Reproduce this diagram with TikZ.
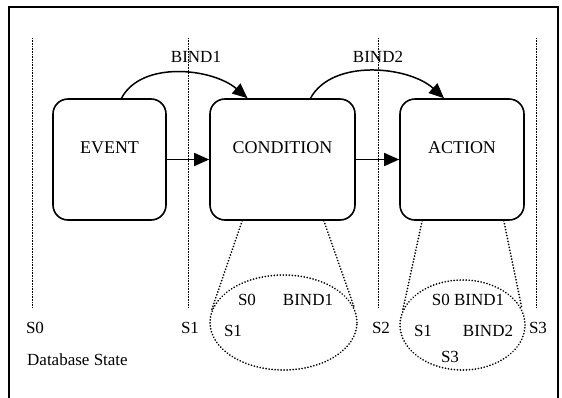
\documentclass[tikz,border=0pt]{standalone}
\usepackage{fontspec}
\setmainfont{Liberation Serif}
\usetikzlibrary{arrows.meta,shapes.geometric}

\begin{document}
\begin{tikzpicture}[x=1pt,y=-1pt,
    phase/.style={draw, line width=1.6pt, rectangle, rounded corners=15pt, minimum height=121pt, text depth=24pt, inner sep=0pt, font=\fontsize{18}{20}\selectfont},
    statering/.style={draw, ellipse, inner sep=0pt, line width=1.9pt, line cap=round, dash pattern=on 0.01pt off 3pt},
    zoomline/.style={line width=1.9pt, line cap=round, dash pattern=on 0.01pt off 3pt},
    sepline/.style={line width=0.9pt, dash pattern=on 0.8pt off 0.8pt},
    flow/.style={line width=1.5pt, -{Triangle[length=15pt,width=13pt]}},
    lbl/.style={inner sep=0pt, font=\fontsize{17}{19}\selectfont}]
    \useasboundingbox (0,0) rectangle (562,397);
    % Frame
    \draw[line width=1.5pt] (9,420) -- (9,7) -- (558,7) -- (558,420);

    % State separators
    \foreach \sx/\sname in {32/S0, 188/S1, 378/S2, 536/S3}{
        \coordinate (sep-\sname-top) at (\sx,38);
        \coordinate (sep-\sname-bot) at (\sx,308);
        \draw[sepline] (sep-\sname-top) -- (sep-\sname-bot);
    }

    % Phases
    \node[phase, minimum width=113pt] (event) at (109.5,159.5) {EVENT};
    \node[phase, minimum width=145pt] (condition) at (282.5,159.5) {CONDITION};
    \node[phase, minimum width=124pt] (action) at (462,159.5) {ACTION};

    \draw[flow] (event) -- (condition);
    \draw[flow] (condition) -- (action);

    % Bindings
    \draw[flow] ([xshift=12pt]event.north) .. controls +(20,-38) and +(-35,-30) .. ([xshift=-35pt]condition.north);
    \draw[flow] ([xshift=28pt]condition.north) .. controls +(22,-40) and +(-35,-32) .. ([xshift=-18pt]action.north);
    \node[lbl] (bind-1) at (196,57) {BIND1};
    \node[lbl] (bind-2) at (378,57) {BIND2};

    % State sets
    \node[statering, minimum width=147pt, minimum height=95pt] (condstate) at (283.5,322.5) {};
    \node[statering, minimum width=125pt, minimum height=90pt] (actstate) at (462.5,325) {};

    \draw[zoomline] ([xshift=33pt]condition.south west) -- (condstate.170);
    \draw[zoomline] ([xshift=-32pt]condition.south east) -- (condstate.12);
    \draw[zoomline] ([xshift=23pt]action.south west) -- (actstate.165);
    \draw[zoomline] ([xshift=-21pt]action.south east) -- (actstate.15);

    \node[lbl] (cs-s0) at (247,300) {S0};
    \node[lbl] (cs-bind1) at (308,300) {BIND1};
    \node[lbl] (cs-s1) at (233,331) {S1};

    \node[lbl] (as-s0) at (468,300) {S0 BIND1};
    \node[lbl] (as-s1) at (423,331) {S1};
    \node[lbl] (as-bind2) at (488,331) {BIND2};
    \node[lbl] (as-s3) at (450,357) {S3};

    % Database states
    \node[lbl] (state-0) at (35,328) {S0};
    \node[lbl] (state-1) at (190,328) {S1};
    \node[lbl] (state-2) at (381,328) {S2};
    \node[lbl] (state-3) at (538,328) {S3};
    \node[lbl, anchor=west] (db-state) at (27,360) {Database State};
\end{tikzpicture}
\end{document}
